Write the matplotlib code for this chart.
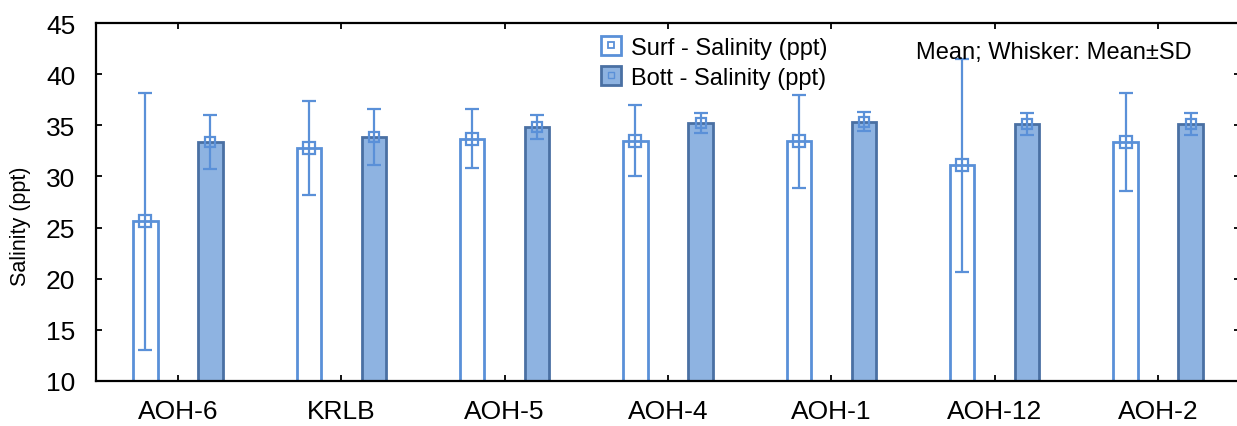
import matplotlib
matplotlib.use("Agg")
import matplotlib.pyplot as plt
import numpy as np
from matplotlib.patches import Patch
from matplotlib.lines import Line2D

plt.rcParams['font.family'] = ['Liberation Sans', 'DejaVu Sans']

sites = ["AOH-6", "KRLB", "AOH-5", "AOH-4", "AOH-1", "AOH-12", "AOH-2"]
surf_mean = [25.6, 32.8, 33.7, 33.5, 33.45, 31.1, 33.4]
surf_sd = [12.6, 4.6, 2.85, 3.45, 4.55, 10.4, 4.8]
bott_mean = [33.35, 33.85, 34.85, 35.2, 35.35, 35.15, 35.15]
bott_sd = [2.65, 2.75, 1.2, 1.0, 0.93, 1.1, 1.1]
yticks = [10, 15, 20, 25, 30, 35, 40, 45]

SURF_EDGE = "#5A90D8"
BOTT_FILL = "#8EB3E1"
BOTT_EDGE = "#4A70A3"

W, H = 1237, 427
fig = plt.figure(figsize=(W / 100, H / 100), dpi=100)
ax_left, ax_right, ax_top, ax_bot = 96.3, 1239.7, 24, 382
ax = fig.add_axes([ax_left / W, 1 - ax_bot / H, (ax_right - ax_left) / W, (ax_bot - ax_top) / H])

x = np.arange(len(sites))
off = 0.199
bw = 0.148

ax.bar(x - off, surf_mean, width=bw, facecolor="white", edgecolor=SURF_EDGE, linewidth=2.0, zorder=2)
ax.bar(x + off, bott_mean, width=bw, facecolor=BOTT_FILL, edgecolor=BOTT_EDGE, linewidth=2.0, zorder=2)

ax.errorbar(x - off, surf_mean, yerr=surf_sd, fmt="s", ms=8.5, mfc="none", mec=SURF_EDGE, mew=1.6,
            ecolor=SURF_EDGE, elinewidth=1.6, capsize=4.7, capthick=1.6, zorder=3)
ax.errorbar(x + off, bott_mean, yerr=bott_sd, fmt="s", ms=6.5, mfc="none", mec=SURF_EDGE, mew=1.6,
            ecolor=SURF_EDGE, elinewidth=1.6, capsize=4.7, capthick=1.6, zorder=3)

ax.set_xlim(-0.5, len(sites) - 0.5)
ax.set_ylim(10, 45)
ax.set_yticks(yticks)
ax.set_xticks(x)
ax.set_xticklabels(sites)
ax.tick_params(axis="both", direction="in", length=4, width=1.3, labelsize=19,
               top=True, right=True)
ax.tick_params(axis="y", pad=15)
ax.tick_params(axis="x", pad=13)
for s in ax.spines.values():
    s.set_linewidth(1.6)
ax.set_ylabel("Salinity (ppt)", fontsize=15.5, va="center")
ax.yaxis.set_label_coords((21 - ax_left) / (ax_right - ax_left), (ax_bot - 226) / (ax_bot - ax_top))

h1 = (Patch(facecolor="white", edgecolor=SURF_EDGE, linewidth=2.0),
      Line2D([], [], marker="s", ls="none", ms=5, mfc="none", mec=SURF_EDGE, mew=1.3))
h2 = (Patch(facecolor=BOTT_FILL, edgecolor=BOTT_EDGE, linewidth=2.0),
      Line2D([], [], marker="s", ls="none", ms=4, mfc="none", mec=SURF_EDGE, mew=1.0))
fig.legend([h1, h2], ["Surf - Salinity (ppt)", "Bott - Salinity (ppt)"],
           loc="upper left", bbox_to_anchor=(601 / W, 1 - 37 / H), bbox_transform=fig.transFigure,
           frameon=False, fontsize=17, handlelength=0.85, handleheight=0.85, handletextpad=0.4,
           borderpad=0, borderaxespad=0, labelspacing=0.32)

fig.text(916 / W, 1 - 53 / H, "Mean; Whisker: Mean±SD", fontsize=17, va="center", ha="left")

fig.savefig("out.png", dpi=100)
